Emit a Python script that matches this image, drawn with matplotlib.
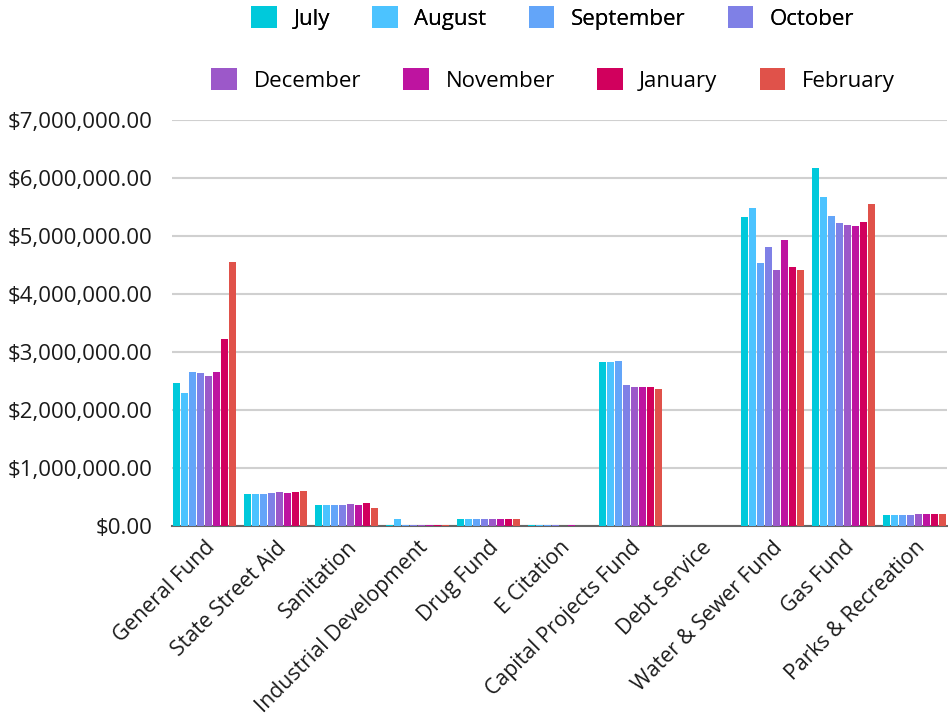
import numpy as np
import matplotlib
matplotlib.use("Agg")
import matplotlib.pyplot as plt
from matplotlib.patches import Patch
from matplotlib.ticker import FuncFormatter

plt.rcParams['font.family'] = ['Open Sans', 'DejaVu Sans']

funds = ['General Fund', 'State Street Aid', 'Sanitation', 'Industrial Development',
         'Drug Fund', 'E Citation', 'Capital Projects Fund', 'Debt Service',
         'Water & Sewer Fund', 'Gas Fund', 'Parks & Recreation']

months = ['July', 'August', 'September', 'October',
          'December', 'November', 'January', 'February']
colors = ['#00C9DB', '#4CC3FF', '#63A5F9', '#7F80E6',
          '#9C58C9', '#BE14A0', '#D1005D', '#E0524A']

july      = [2460000, 550000, 362000, 15000, 118000, 15000, 2830000, 0, 5330000, 6170000, 190000]
august    = [2290000, 550000, 365000, 118000, 118000, 15000, 2830000, 0, 5480000, 5670000, 190000]
september = [2660000, 560000, 370000, 12000, 118000, 12000, 2840000, 0, 4540000, 5340000, 195000]
october   = [2630000, 570000, 360000, 12000, 118000, 12000, 2430000, 0, 4810000, 5220000, 198000]
december  = [2590000, 580000, 372000, 12000, 118000, 0, 2390000, 0, 4410000, 5190000, 200000]
november  = [2650000, 570000, 370000, 12000, 118000, 12000, 2400000, 0, 4930000, 5170000, 200000]
january   = [3220000, 590000, 390000, 12000, 118000, 0, 2390000, 0, 4460000, 5250000, 200000]
february  = [4550000, 600000, 310000, 12000, 118000, 0, 2370000, 0, 4410000, 5550000, 200000]

series = [july, august, september, october, december, november, january, february]

fig = plt.figure(figsize=(9.48, 7.23), dpi=100)
ax = fig.add_axes([172 / 948, 1 - 526 / 723, 775 / 948, 406 / 723])

x = np.arange(len(funds))
n = len(series)
group_w = 0.905
w = group_w / n
for i, (vals, c) in enumerate(zip(series, colors)):
    ax.bar(x - group_w / 2 + w * (i + 0.5), vals, width=w * 0.88, color=c,
           linewidth=0, zorder=3)

ax.set_xlim(-0.46, len(funds) - 0.54)
ax.set_ylim(0, 7000000)
ax.set_yticks(np.arange(0, 7000001, 1000000))
ax.yaxis.set_major_formatter(FuncFormatter(lambda v, p: '${:,.2f}'.format(v)))
ax.grid(axis='y', color='#d0d0d0', linewidth=1.5, zorder=0)
ax.set_axisbelow(True)
for s in ['top', 'right', 'left']:
    ax.spines[s].set_visible(False)
ax.spines['bottom'].set_color('#666666')
ax.spines['bottom'].set_linewidth(1.5)
ax.spines['bottom'].set_zorder(2.5)
ax.tick_params(axis='both', length=0, colors='#1a1a1a')
ax.tick_params(axis='y', pad=14, labelsize=16)
ax.set_xticks(x)
ax.set_xticklabels(funds, rotation=45, ha='right', rotation_mode='anchor')
ax.tick_params(axis='x', pad=8, labelsize=15.3)

def legend_row(labels, cols, y):
    handles = [Patch(facecolor=c, edgecolor='none') for c in cols]
    leg = fig.legend(handles, labels, loc='center', bbox_to_anchor=(553 / 948, y),
                     ncol=len(labels), frameon=False, fontsize=16,
                     handlelength=1.15, handleheight=1.15, handletextpad=0.75,
                     columnspacing=1.9)
    return leg

l1 = legend_row(months[:4], colors[:4], 1 - 18 / 723)
fig.add_artist(l1)
legend_row(months[4:], colors[4:], 1 - 80 / 723)

fig.savefig('out.png', dpi=100, facecolor='white')
